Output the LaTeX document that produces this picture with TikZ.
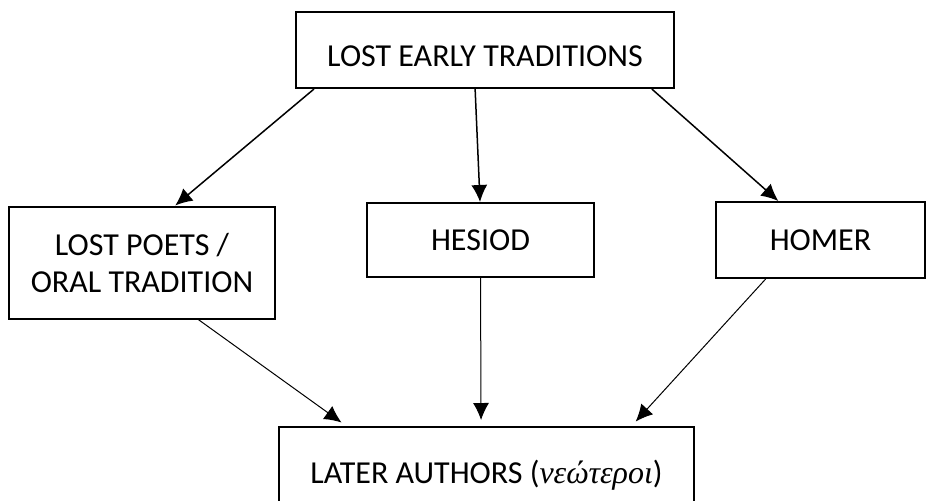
\documentclass[tikz,border=0pt]{standalone}
\usepackage{fontspec}
\setmainfont{Carlito}
\newfontfamily\greekit{Liberation Serif}
\usetikzlibrary{calc,arrows.meta}

\begin{document}
\begin{tikzpicture}[x=0.5pt,y=-0.5pt,
    box/.style={draw,line width=1pt,inner sep=0pt,align=center,font=\fontsize{16}{18.5}\selectfont},
    link/.style={line width=0.75pt,-{Latex[length=8.5pt,width=8pt]}},
    thinlink/.style={line width=0.5pt,-{Latex[length=8.5pt,width=8pt]}}]
            \useasboundingbox (0,0) rectangle (932,500);

            \node[box,minimum width=189pt,minimum height=38pt,text height=16.5pt] (lost) at (485,50) {LOST EARLY TRADITIONS};
            \node[box,minimum width=133pt,minimum height=56pt] (poets) at (142,262.5) {LOST POETS /\\ORAL TRADITION};
            \node[box,minimum width=113.5pt,minimum height=37pt] (hesiod) at (480.5,240) {HESIOD};
            \node[box,minimum width=104.5pt,minimum height=38pt] (homer) at (820.5,240) {HOMER};
            \node[box,minimum width=207.5pt,minimum height=39pt,text height=21pt,text depth=3.5pt] (later) at (486.5,466) {LATER AUTHORS ({\greekit\itshape νεώτεροι})};

            \foreach \n/\a/\b in {poets/0.05/0.624,hesiod/0.474/0.498,homer/0.939/0.3} {
                \draw[link] ($ (lost.south west)!\a!(lost.south east) $) -- ($ (\n.north west)!\b!(\n.north east) $);
            }

            \foreach \n/\a/\b in {poets/0.71/0.164,hesiod/0.5/0.487,homer/0.24/0.848} {
                \draw[thinlink,shorten >=3pt] ($ (\n.south west)!\a!(\n.south east) $) -- ($ (later.north west)!\b!(later.north east) $);
            }
        \end{tikzpicture}
\end{document}
